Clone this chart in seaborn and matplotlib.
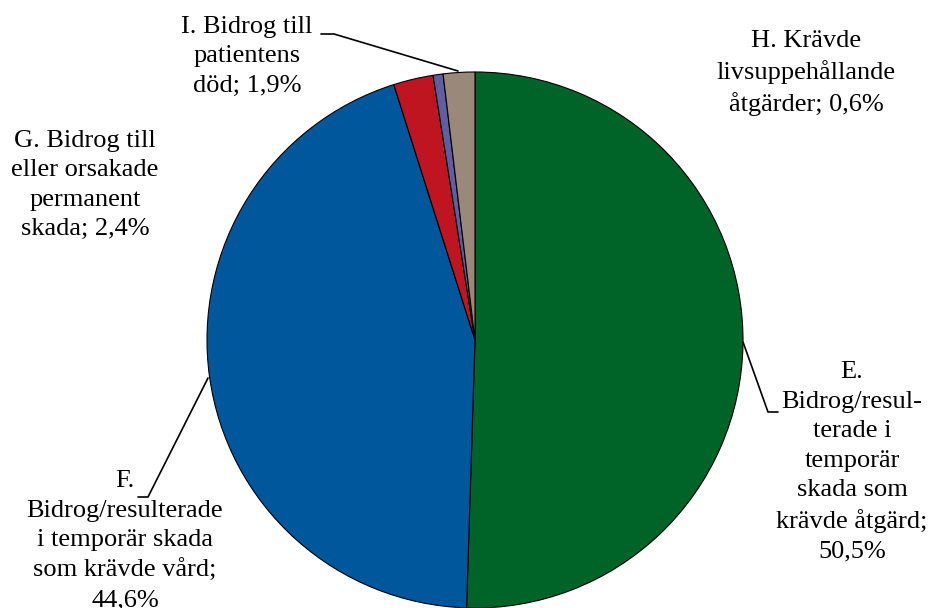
import matplotlib
matplotlib.use("Agg")
import matplotlib.pyplot as plt
import seaborn as sns

# Andel avvikelser per allvarlighetsgrad
kategorier = ["E", "F", "G", "H", "I"]
andelar = [50.5, 44.6, 2.4, 0.6, 1.9]
etiketter = [
    "E.\nBidrog/resul-\nterade i\ntemporär\nskada som\nkrävde åtgärd;\n50,5%",
    "F.\nBidrog/resulterade\ni temporär skada\nsom krävde vård;\n44,6%",
    "G. Bidrog till\neller orsakade\npermanent\nskada; 2,4%",
    "H. Krävde\nlivsuppehållande\nåtgärder; 0,6%",
    "I. Bidrog till\npatientens\ndöd; 1,9%",
]
farger = ["#006429", "#00579B", "#BF1520", "#5E5EA2", "#9A8878"]

sns.set_theme(style="white")
plt.rcParams["font.family"] = "serif"
plt.rcParams["font.serif"] = ["Liberation Serif", "DejaVu Serif"]

fig = plt.figure(figsize=(9.38, 6.08), dpi=100)
ax = fig.add_axes([0, 0, 1, 1])

H = 608
cx, cy, r = 475, H - 340, 268
ax.pie(
    andelar,
    colors=farger,
    startangle=90,
    counterclock=False,
    center=(cx, cy),
    radius=r,
    wedgeprops=dict(edgecolor="black", linewidth=0.8),
    frame=True,
)
ax.set_xlim(0, 938)
ax.set_ylim(0, 608)
ax.set_aspect("equal")
ax.axis("off")

# etikettpositioner (pixlar från överkant)
pos = [(852, 462), (125, 541), (85, 185), (806, 73), (247, 56)]
for text, (x, y) in zip(etiketter, pos):
    ax.text(x, H - y, text, ha="center", va="center", fontsize=19,
            linespacing=1.44, color="black")

# hänvisningslinjer
linjer = [
    [(743, 342), (768, 412), (778, 412)],
    [(208, 378), (148, 497), (138, 497)],
    [(458, 71), (334, 34), (321, 34)],
]
for pts in linjer:
    xs = [p[0] for p in pts]
    ys = [H - p[1] for p in pts]
    ax.plot(xs, ys, color="black", linewidth=1.2)

fig.savefig("out.png", dpi=100)
